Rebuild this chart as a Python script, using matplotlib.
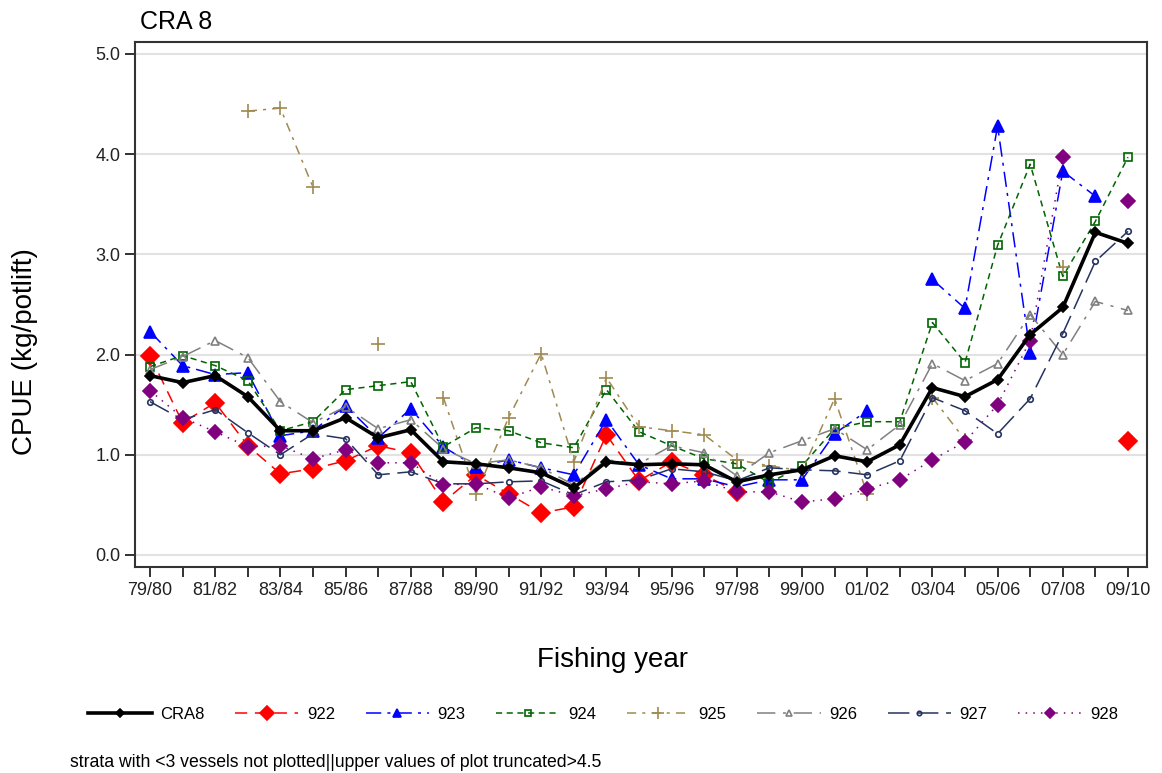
import numpy as np
import matplotlib
matplotlib.use('Agg')
import matplotlib.pyplot as plt

plt.rcParams['font.family'] = ['Liberation Sans', 'DejaVu Sans']

nan = np.nan
years = ['79/80', '80/81', '81/82', '82/83', '83/84', '84/85', '85/86', '86/87',
         '87/88', '88/89', '89/90', '90/91', '91/92', '92/93', '93/94', '94/95',
         '95/96', '96/97', '97/98', '98/99', '99/00', '00/01', '01/02', '02/03',
         '03/04', '04/05', '05/06', '06/07', '07/08', '08/09', '09/10']

cra8 = [1.79, 1.72, 1.79, 1.58, 1.24, 1.24, 1.37, 1.17, 1.25, 0.93, 0.91, 0.87, 0.82,
        0.67, 0.93, 0.90, 0.91, 0.90, 0.73, 0.80, 0.85, 0.99, 0.93, 1.10, 1.67, 1.58,
        1.75, 2.20, 2.47, 3.22, 3.11]
s922 = [1.99, 1.32, 1.52, 1.09, 0.81, 0.86, 0.94, 1.09, 1.02, 0.53, 0.80, 0.61, 0.42,
        0.48, 1.20, 0.74, 0.93, 0.80, 0.63, nan, nan, nan, nan, nan, nan, nan,
        nan, nan, nan, nan, 1.14]
s923 = [2.23, 1.89, 1.80, 1.82, 1.19, 1.24, 1.49, 1.17, 1.46, 1.08, 0.88, 0.95, 0.87,
        0.80, 1.35, 0.90, 0.76, 0.76, 0.68, 0.75, 0.75, 1.21, 1.44, nan, 2.75, 2.46,
        4.28, 2.02, 3.83, 3.58, nan]
s924 = [1.88, 1.99, 1.89, 1.74, 1.24, 1.33, 1.65, 1.69, 1.73, 1.08, 1.27, 1.24, 1.12,
        1.07, 1.65, 1.23, 1.09, 0.96, 0.91, 0.72, 0.89, 1.26, 1.33, 1.33, 2.32, 1.92,
        3.09, 3.90, 2.78, 3.33, 3.97]
s925 = [nan, nan, nan, 4.43, 4.46, 3.67, nan, 2.11, nan, 1.57, 0.61, 1.37, 2.01,
        0.93, 1.77, 1.28, 1.24, 1.20, 0.95, 0.89, 0.84, 1.56, 0.61, nan, 1.57, 1.15,
        nan, nan, 2.87, nan, nan]
s926 = [1.85, 1.98, 2.14, 1.97, 1.53, 1.32, 1.48, 1.26, 1.35, 1.06, 0.91, 0.95, 0.87,
        0.70, 0.95, 0.91, 1.09, 1.02, 0.79, 1.02, 1.14, 1.26, 1.05, 1.30, 1.91, 1.74,
        1.91, 2.40, 2.00, 2.53, 2.44]
s927 = [1.53, 1.35, 1.45, 1.22, 1.00, 1.21, 1.16, 0.80, 0.83, 0.71, 0.71, 0.73, 0.74,
        0.60, 0.73, 0.75, 0.86, 0.83, 0.74, 0.87, 0.85, 0.84, 0.80, 0.94, 1.57, 1.44,
        1.21, 1.56, 2.21, 2.93, 3.23]
s928 = [1.64, 1.37, 1.23, 1.08, 1.09, 0.96, 1.05, 0.92, 0.92, 0.70, 0.71, 0.57, 0.68,
        0.59, 0.66, 0.73, 0.71, 0.74, 0.63, 0.63, 0.53, 0.56, 0.66, 0.75, 0.95, 1.13,
        1.50, 2.14, 3.97, nan, 3.53]

x = np.arange(len(years))

# label, data, colour, linestyle, marker, markersize, filled
series = [
    ('CRA8', cra8, 'black', '-', 'D', 5, True),
    ('922', s922, '#ff0000', (0, (8, 5)), 'D', 9, True),
    ('923', s923, '#0000ff', (0, (10, 4, 2, 4)), '^', 8, True),
    ('924', s924, '#006400', (0, (4, 3)), 's', 6, False),
    ('925', s925, '#a08a52', (0, (6, 4, 2, 4)), '+', 10, True),
    ('926', s926, '#808080', (0, (12, 5, 2, 5)), '^', 6, False),
    ('927', s927, '#25335f', (0, (14, 5)), 'o', 4, False),
    ('928', s928, '#800080', (0, (1, 4)), 'D', 7, True),
]

fig = plt.figure(figsize=(11.62, 7.73), dpi=100)
ax = fig.add_axes([0.1162, 0.2665, 0.8708, 0.6792])

handles = []
for name, vals, col, ls, mk, ms, filled in series:
    lw = 2.6 if name == 'CRA8' else 1.1
    fc = col if filled else 'none'
    h, = ax.plot(x, vals, color=col, linestyle=ls, linewidth=lw, marker=mk,
                 markersize=ms, markerfacecolor=fc, markeredgecolor=col,
                 markeredgewidth=1.2, label=name, zorder=3 if name == 'CRA8' else 2)
    handles.append(h)

ax.set_xlim(-0.46, 30.58)
ax.set_ylim(-0.12, 5.12)
ax.set_yticks(np.arange(0, 5.01, 1.0))
ax.set_yticklabels(['%.1f' % v for v in np.arange(0, 5.01, 1.0)])
ax.set_xticks(x)
ax.set_xticklabels([y if i % 2 == 0 else '' for i, y in enumerate(years)])
ax.tick_params(axis='both', labelsize=13, length=7, width=1.3, color='#222222',
               labelcolor='#222222', direction='out')
ax.grid(axis='y', color='#e2e2e2', linewidth=1.5)
ax.set_axisbelow(True)
for sp in ax.spines.values():
    sp.set_linewidth(1.5)
    sp.set_color('#333333')

fig.text(0.1205, 0.9715, 'CRA 8', fontsize=18, va='center', ha='left')
fig.text(0.0215, 0.545, 'CPUE (kg/potlift)', fontsize=20, rotation=90,
         va='center', ha='center')
fig.text(0.527, 0.146, 'Fishing year', fontsize=20, va='center', ha='center')

fig.legend(handles=handles, loc='center', bbox_to_anchor=(0.519, 0.076), ncol=8,
           frameon=False, fontsize=12, handlelength=3.8, columnspacing=1.85,
           handletextpad=0.5, numpoints=1, markerscale=0.8)

fig.text(0.060, 0.0142,
         'strata with <3 vessels not plotted||upper values of plot truncated>4.5',
         fontsize=12.7, va='center', ha='left')

fig.savefig('out.png', dpi=100)
